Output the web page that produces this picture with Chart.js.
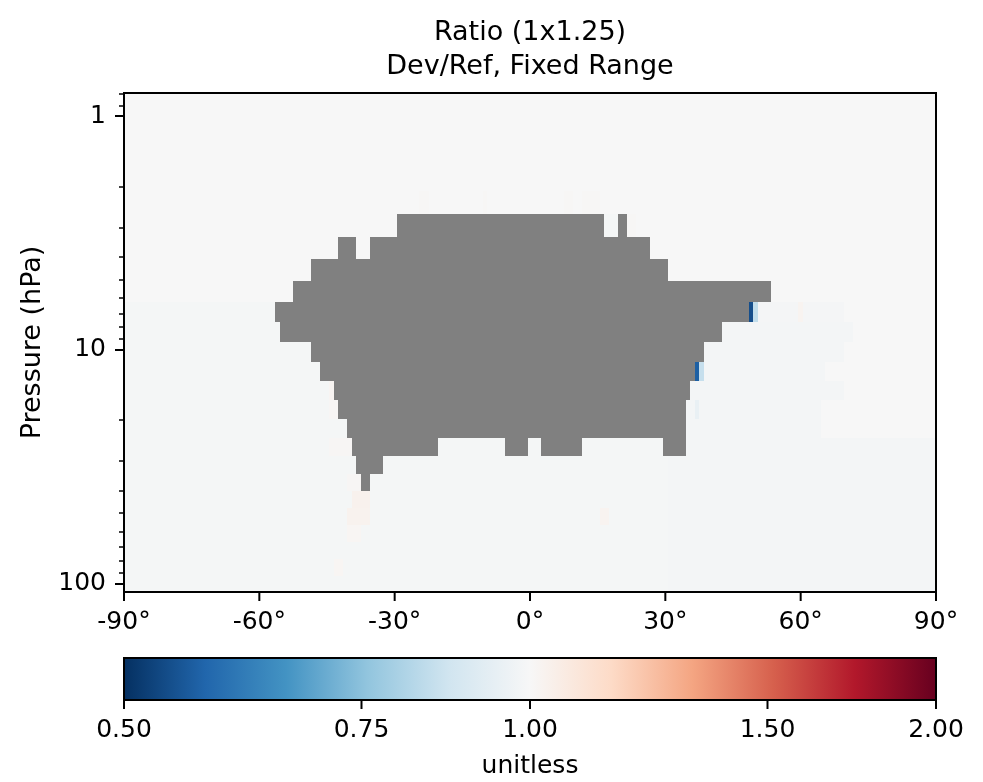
<!DOCTYPE html>
<html>
<head>
<meta charset="utf-8">
<script src="https://cdn.jsdelivr.net/npm/chart.js@4.4.0/dist/chart.umd.min.js"></script>
<style>
html,body{margin:0;padding:0;background:#fff;}
#wrap{position:relative;width:983px;height:782px;}
#mainBox{position:absolute;left:0;top:0;width:983px;height:640px;}
#cbBox{position:absolute;left:0;top:640px;width:983px;height:142px;}
</style>
</head>
<body>
<div id="wrap">
  <div id="mainBox"><canvas id="main"></canvas></div>
  <div id="cbBox"><canvas id="cbar"></canvas></div>
</div>
<script>
// pressure level edges (hPa), top of plot to bottom
const levelEdges = [0.7951, 1.0194, 1.3005, 1.6508, 2.0850, 2.6202, 3.2764, 4.0766, 5.0468, 6.2168,
  7.6198, 9.2929, 11.2769, 13.6434, 16.4571, 19.7916, 23.7304, 28.3678, 33.8100, 40.1754,
  47.6439, 56.3879, 66.6034, 78.5123, 92.3657, 108.663];

// background ratio of each level
const levelBase = [1, 1, 1, 1, 1, 1, 1, 1, 1,
  0.99, 0.99, 0.99, 0.99, 0.99, 0.99, 0.99, 0.99, 0.99, 0.99, 0.99, 0.99, 0.99, 0.99, 0.99, 0.99];

// cells with no data (gray): [level, lat from, lat to]
const maskedRuns = [
  [5, -29.5, 16.5], [5, 19.5, 21.5],
  [6, -42.5, -38.5], [6, -35.5, 26.5],
  [7, -48.5, 30.5],
  [8, -52.5, 53.5],
  [9, -56.5, 48.5],
  [10, -55.5, 42.5],
  [11, -48.5, 38.5],
  [12, -46.5, 36.5],
  [13, -43.5, 35.5],
  [14, -42.5, 34.5],
  [15, -40.5, 34.5],
  [16, -39.5, -20.5], [16, -5.5, -0.5], [16, 2.5, 11.5], [16, 29.5, 34.5],
  [17, -38.5, -32.5],
  [18, -37.5, -35.5]
];

// cells that differ from the level background: [level, lat from, lat to, ratio]
const ratioRuns = [
  [4, -24.5, -22.5, 1.006], [4, -10.5, -9.5, 1.006], [4, 7.5, 9.5, 1.006], [4, 11.5, 15.5, 1.006],
  [5, 16.5, 19.5, 0.99], [5, 21.5, 23.5, 1.006],
  [9, 50.5, 69.5, 0.988], [9, 69.5, 90, 1], [9, 59.5, 60.5, 1.02], [9, 48.5, 49.5, 0.54], [9, 49.5, 50.5, 0.84],
  [10, 42.5, 71.5, 0.986], [10, 71.5, 90, 1],
  [11, 38.5, 69.5, 0.986], [11, 69.5, 90, 1],
  [12, 38.5, 65.5, 0.986], [12, 65.5, 90, 1], [12, 36.5, 37.5, 0.565], [12, 37.5, 38.5, 0.85],
  [13, 35.5, 69.5, 0.986], [13, 69.5, 90, 1], [13, -44.5, -43.5, 1.015],
  [14, 34.5, 64.5, 0.986], [14, 64.5, 90, 1], [14, 36.5, 37.5, 0.95], [14, -44.5, -42.5, 1.01],
  [15, 34.5, 64.5, 0.986], [15, 64.5, 90, 1],
  [16, 34.5, 90, 0.986], [16, -44.5, -39.5, 1.008],
  [17, 30.5, 90, 0.986],
  [18, 30.5, 90, 0.986], [18, -40.5, -37.5, 1.008],
  [19, 30.5, 90, 0.986], [19, -39.5, -35.5, 1.03],
  [20, 30.5, 90, 0.986], [20, -40.5, -35.5, 1.025], [20, 15.5, 17.5, 1.02],
  [21, 30.5, 90, 0.986], [21, -40.5, -37.5, 1.012],
  [22, 30.5, 90, 0.986],
  [23, 30.5, 90, 0.986], [23, -43.5, -41.5, 1.012],
  [24, 30.5, 90, 0.986]
];

const latTicks = [-90, -60, -30, 0, 30, 60, 90];
const presTicks = [0.8, 0.9, 1, 2, 3, 4, 5, 6, 7, 8, 9, 10, 20, 30, 40, 50, 60, 70, 80, 90, 100];
const presLabels = [1, 10, 100];
const cbTicks = [0.5, 0.75, 1, 1.5, 2];

// RdBu_r anchors
const rdbuR = [[5,48,97],[33,102,172],[67,147,195],[146,197,222],[209,229,240],[247,247,247],
  [253,219,199],[244,165,130],[214,96,77],[178,24,43],[103,0,31]];

function ratioColor(v){
  let t = (Math.log2(v) + 1) / 2;
  t = Math.min(1, Math.max(0, t)) * 10;
  const i = Math.min(9, Math.floor(t)), f = t - i;
  const a = rdbuR[i], b = rdbuR[i+1];
  const c = a.map((q,k)=> Math.round(q + (b[k]-q)*f));
  return `rgb(${c[0]},${c[1]},${c[2]})`;
}

Chart.defaults.font.family = "'DejaVu Sans', sans-serif";
Chart.defaults.color = "#000";

const heatmapPlugin = {
  id: "heatmap",
  beforeDatasetsDraw(chart){
    const {ctx, chartArea: a, scales: {x, y}} = chart;
    ctx.save();
    ctx.beginPath();
    ctx.rect(a.left, a.top, a.right - a.left, a.bottom - a.top);
    ctx.clip();
    const cell = (lev, lat0, lat1, color)=>{
      const x0 = Math.round(x.getPixelForValue(lat0)), x1 = Math.round(x.getPixelForValue(lat1));
      const y0 = Math.round(y.getPixelForValue(levelEdges[lev])), y1 = Math.round(y.getPixelForValue(levelEdges[lev+1]));
      ctx.fillStyle = color;
      ctx.fillRect(x0, y0, x1 - x0, y1 - y0);
    };
    levelBase.forEach((v,i)=> cell(i, -90, 90, ratioColor(v)));
    ratioRuns.forEach(r=> cell(r[0], r[1], r[2], ratioColor(r[3])));
    maskedRuns.forEach(r=> cell(r[0], r[1], r[2], "#808080"));
    ctx.restore();
  }
};

const framePlugin = {
  id: "frame",
  afterDraw(chart){
    const {ctx, chartArea: a, scales: {x, y}} = chart;
    ctx.save();
    ctx.strokeStyle = "#000";
    const seg = (x0,y0,x1,y1)=>{ ctx.beginPath(); ctx.moveTo(x0,y0); ctx.lineTo(x1,y1); ctx.stroke(); };
    ctx.lineWidth = 2;
    x.ticks.forEach(t=>{ const p = x.getPixelForValue(t.value); seg(p, a.bottom, p, a.bottom + 9); });
    y.ticks.forEach(t=>{
      const p = Math.round(y.getPixelForValue(t.value));
      if(presLabels.includes(t.value)){ ctx.lineWidth = 2; seg(a.left - 9, p, a.left, p); }
      else { ctx.lineWidth = 1.5; seg(a.left - 5, p, a.left, p); }
    });
    ctx.lineWidth = 2;
    ctx.strokeRect(a.left, a.top, a.right - a.left, a.bottom - a.top);
    ctx.restore();
  }
};

new Chart(document.getElementById("main"), {
  type: "scatter",
  data: { datasets: [{ data: [] }] },
  options: {
    responsive: true, maintainAspectRatio: false, animation: false,
    layout: { padding: { left: 0, right: 47, top: 0, bottom: 0 } },
    plugins: {
      legend: { display: false }, tooltip: { enabled: false },
      title: {
        display: true, fullSize: false,
        text: ["Ratio (1x1.25)", "Dev/Ref, Fixed Range"],
        color: "#000", font: { size: 27, weight: "normal", lineHeight: 34/27 },
        padding: { top: 16, bottom: 9 }
      }
    },
    scales: {
      x: {
        type: "linear", min: -90, max: 90,
        afterBuildTicks: s=>{ s.ticks = latTicks.map(v=>({ value: v })); },
        afterFit: s=>{ s.height = 48; },
        grid: { display: false, tickLength: 9 }, border: { display: false },
        ticks: { padding: 6, maxRotation: 0, autoSkip: false, font: { size: 25 }, callback: v=> v + "°" }
      },
      y: {
        type: "logarithmic", reverse: true,
        min: levelEdges[0], max: levelEdges[levelEdges.length - 1],
        afterBuildTicks: s=>{ s.ticks = presTicks.map(v=>({ value: v })); },
        afterFit: s=>{ s.width = 124; },
        grid: { display: false, tickLength: 9 }, border: { display: false },
        ticks: { padding: 9, autoSkip: false, font: { size: 25 }, callback: v=> presLabels.includes(v) ? String(v) : "" },
        title: { display: true, text: "Pressure (hPa)", font: { size: 27 }, padding: { top: 17, bottom: 0 } }
      }
    }
  },
  plugins: [heatmapPlugin, framePlugin]
});

const colorbarPlugin = {
  id: "colorbar",
  beforeDatasetsDraw(chart){
    const {ctx, chartArea: a, scales: {x}} = chart;
    ctx.save();
    const g = ctx.createLinearGradient(a.left, 0, a.right, 0);
    rdbuR.forEach((c,k)=> g.addColorStop(k/10, `rgb(${c[0]},${c[1]},${c[2]})`));
    ctx.fillStyle = g;
    ctx.fillRect(a.left, a.top, a.right - a.left, a.bottom - a.top);
    ctx.strokeStyle = "#000";
    ctx.lineWidth = 2;
    ctx.strokeRect(a.left, a.top, a.right - a.left, a.bottom - a.top);
    x.ticks.forEach(t=>{
      const p = x.getPixelForValue(t.value);
      ctx.beginPath(); ctx.moveTo(p, a.bottom); ctx.lineTo(p, a.bottom + 9); ctx.stroke();
    });
    ctx.restore();
  }
};

new Chart(document.getElementById("cbar"), {
  type: "scatter",
  data: { datasets: [{ data: [] }] },
  options: {
    responsive: true, maintainAspectRatio: false, animation: false,
    layout: { padding: { left: 124, right: 47, top: 18, bottom: 0 } },
    plugins: { legend: { display: false }, tooltip: { enabled: false } },
    scales: {
      x: {
        type: "logarithmic", min: 0.5, max: 2,
        afterBuildTicks: s=>{ s.ticks = cbTicks.map(v=>({ value: v })); },
        afterFit: s=>{ s.height = 82; },
        grid: { display: false, tickLength: 9 }, border: { display: false },
        ticks: { padding: 6, maxRotation: 0, autoSkip: false, font: { size: 25 }, callback: v=> Number(v).toFixed(2) },
        title: { display: true, text: "unitless", font: { size: 25 }, padding: { top: 0, bottom: 1 } }
      },
      y: { display: false, min: 0, max: 1 }
    }
  },
  plugins: [colorbarPlugin]
});
</script>
</body>
</html>
